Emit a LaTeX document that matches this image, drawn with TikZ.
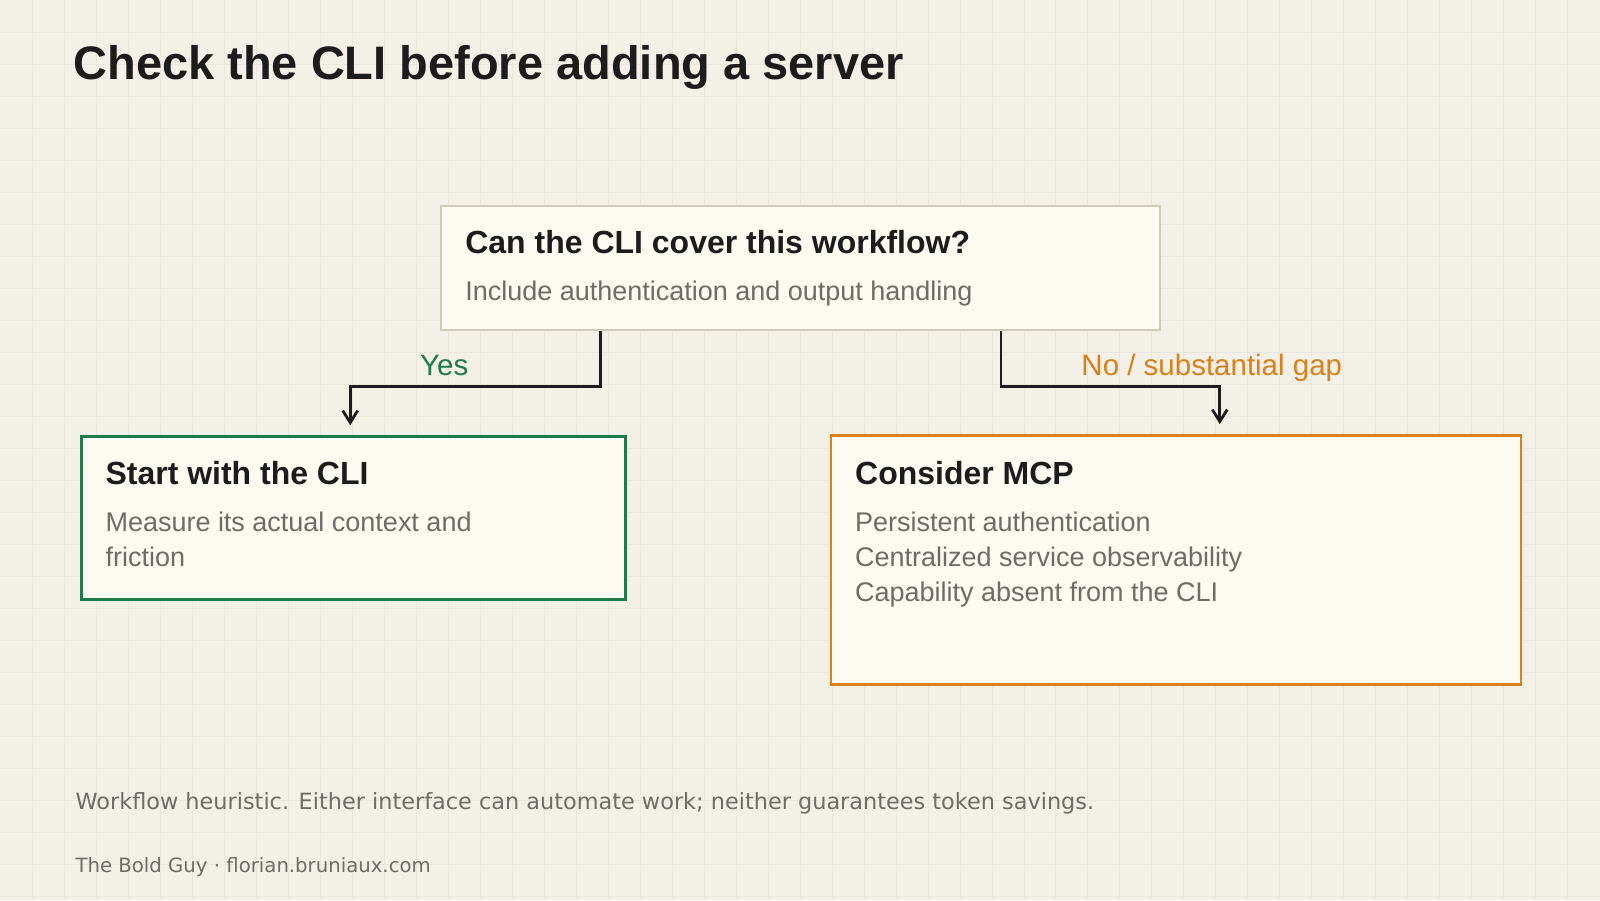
\documentclass[tikz,border=0pt]{standalone}
\usepackage{fontspec}
\setmainfont{Liberation Sans}
\newfontfamily\handfont{DejaVu Sans}
\usetikzlibrary{arrows.meta,positioning}

\definecolor{paper}{HTML}{F3F0E7}
\definecolor{gridline}{HTML}{EAE6DB}
\definecolor{cardfill}{HTML}{FDFAF1}
\definecolor{neutraledge}{HTML}{CFCBB6}
\definecolor{yesgreen}{HTML}{1F7A4C}
\definecolor{nogold}{HTML}{D9801A}
\definecolor{ink}{HTML}{1C1C1C}
\definecolor{muted}{HTML}{6F6C67}

\tikzset{
  card/.style={draw, fill=cardfill, line width=2pt, anchor=north west, inner sep=0pt},
  cardhead/.style={anchor=base west, inner sep=0pt, text=ink, font=\fontsize{32}{38}\selectfont\bfseries},
  cardline/.style={anchor=base west, inner sep=0pt, text=muted, font=\fontsize{27}{35}\selectfont},
  flow/.style={-{Straight Barb[length=12pt,width=15pt]}, line width=2.8pt, draw=ink},
  branch/.style={anchor=base, inner sep=0pt, font=\fontsize{29.5}{35}\selectfont},
  footer/.style={anchor=base west, inner sep=0pt, text=muted, font=\handfont\fontsize{22.4}{27}\selectfont},
}

\begin{document}
\begin{tikzpicture}[x=1pt,y=-1pt]
  % paper with grid
  \fill[paper] (0,0) rectangle (1600,900);
  \foreach \gx in {32,64,...,1568} \draw[gridline, line width=0.8pt] (\gx,0) -- (\gx,900);
  \foreach \gy in {32,64,...,896} \draw[gridline, line width=0.8pt] (0,\gy) -- (1600,\gy);
  \useasboundingbox (0,0) rectangle (1600,900);

  \node[anchor=base west, inner sep=0pt, text=ink, font=\fontsize{47}{56}\selectfont\bfseries] (heading) at (73,79) {Check the CLI before adding a server};

  % question
  \node[card, draw=neutraledge, minimum width=719pt, minimum height=124pt] (question) at (440,205) {};
  \node[cardhead] (qhead) at ([shift={(25pt,-48pt)}]question.north west) {Can the CLI cover this workflow?};
  \node[cardline] (qnote) at ([shift={(25pt,-95pt)}]question.north west) {Include authentication and output handling};

  % yes branch
  \node[card, draw=yesgreen, line width=2.5pt, minimum width=544pt, minimum height=163pt] (start) at (80,435) {};
  \node[cardhead] (starthead) at ([shift={(25pt,-49pt)}]start.north west) {Start with the CLI};
  \node[cardline] (startline1) at ([shift={(25pt,-96pt)}]start.north west) {Measure its actual context and};
  \node[cardline] (startline2) at ([shift={(25pt,-131pt)}]start.north west) {friction};

  % no branch
  \node[card, draw=nogold, line width=2.5pt, minimum width=690pt, minimum height=249pt] (mcp) at (830,434) {};
  \node[cardhead] (mcphead) at ([shift={(25pt,-50pt)}]mcp.north west) {Consider MCP};
  \node[cardline] (mcpline1) at ([shift={(25pt,-97pt)}]mcp.north west) {Persistent authentication};
  \node[cardline] (mcpline2) at ([shift={(25pt,-132pt)}]mcp.north west) {Centralized service observability};
  \node[cardline] (mcpline3) at ([shift={(25pt,-167pt)}]mcp.north west) {Capability absent from the CLI};

  % connectors
  \draw[flow] ([xshift=160pt]question.south west) -- ++(0,55) -| ([xshift=270pt,yshift=10pt]start.north west);
  \draw[flow] ([xshift=-160pt]question.south east) -- ++(0,55) -| ([xshift=390pt,yshift=10pt]mcp.north west);
  \node[branch, text=yesgreen] (yes) at (444,375) {Yes};
  \node[branch, text=nogold] (nogap) at (1212,375) {No / substantial gap};

  \node[footer] (caveat) at (75,810) {Workflow heuristic. Either interface can automate work; neither guarantees token savings.};
  \node[footer, font=\handfont\fontsize{19.7}{24}\selectfont] (credit) at (75,873) {The Bold Guy · florian.bruniaux.com};
\end{tikzpicture}
\end{document}
